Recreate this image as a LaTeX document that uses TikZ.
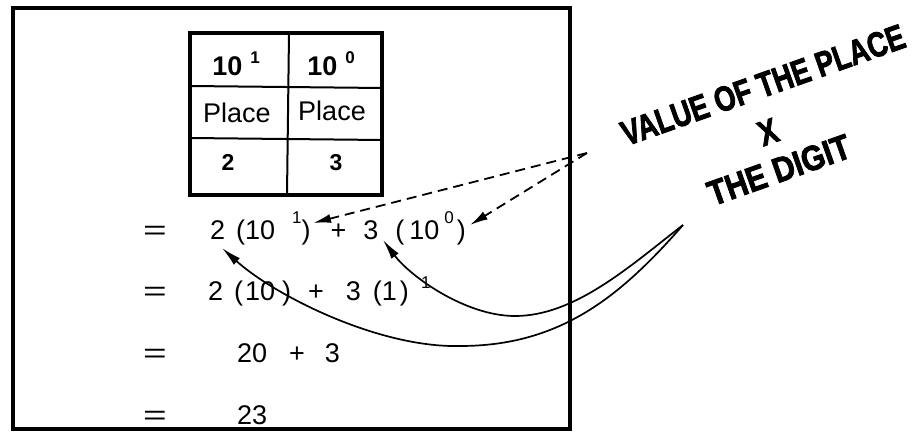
\documentclass[tikz,border=0pt]{standalone}
\usepackage{fontspec}
\setmainfont{Liberation Sans}
\newfontfamily\heavyfont[BoldFeatures={FakeBold=2.5}]{Liberation Sans}
\usetikzlibrary{arrows.meta}
\newcommand\rsup[2]{\raisebox{#1}{\fontsize{17}{17}\selectfont #2}}
\begin{document}
\begin{tikzpicture}[x=1pt,y=-1pt,
  eqtext/.style={anchor=base west, inner sep=0pt, font=\fontsize{27}{27}\selectfont},
  celltext/.style={anchor=base, inner sep=0pt},
  lab/.style={rotate=19.5, inner sep=0pt, font=\fontsize{35}{35}\selectfont\heavyfont\bfseries},
  frame/.style={line width=3.5pt},
  grid/.style={line width=2pt},
  dasharrow/.style={line width=1.8pt, dash pattern=on 10pt off 6pt, -{Latex[length=18pt,width=9pt]}},
  curvearrow/.style={line width=1.7pt, -{Latex[length=20pt,width=9pt]}},
]
\useasboundingbox (0,0) rectangle (912,433);
\fill[white] (0,0) rectangle (912,433);
% outer frame
\draw[frame] (13,8) rectangle (570,429);
% table
\draw[frame] (190,33) rectangle (382,195);
\draw[grid] (190,86) -- (382,88);
\draw[grid] (190,138) -- (382,140);
\draw[grid] (289,33) -- (287,195);
\node[celltext, font=\fontsize{27}{27}\selectfont\bfseries] (p1) at (236,76) {10\hspace{8pt}\rsup{12pt}{\bfseries 1}};
\node[celltext, font=\fontsize{27}{27}\selectfont\bfseries] (p0) at (331,76) {10\hspace{8pt}\rsup{12pt}{\bfseries 0}};
\node[celltext, font=\fontsize{27}{27}\selectfont] (pl1) at (237,122) {Place};
\node[celltext, font=\fontsize{27}{27}\selectfont] (pl0) at (332,121) {Place};
\node[celltext, font=\fontsize{23}{23}\selectfont\bfseries] (d2) at (228,170) {2};
\node[celltext, font=\fontsize{23}{23}\selectfont\bfseries] (d3) at (336,170) {3};
% equals signs
\foreach \i/\y in {1/239,2/300,3/362,4/424}
  \node[eqtext] (eq\i) at (143,\y) {\scalebox{1.5}[1]{=}};
% rows
\node[eqtext] (r1) at (210,239) {2\hspace{11pt}(10\hspace{17pt}\rsup{16pt}{1})\hspace{20pt}+\hspace{17pt}3\hspace{17pt}(\hspace{5pt}10\hspace{5pt}\rsup{16pt}{0}\hspace{3pt})};
\node[eqtext] (r2) at (208,300) {2\hspace{11pt}(\hspace{2pt}10\hspace{7pt})\hspace{17pt}+\hspace{22pt}3\hspace{12pt}(1\hspace{3pt})\hspace{12pt}\rsup{12pt}{1}};
\node[eqtext] (r3) at (237,362) {20\hspace{22pt}+\hspace{20pt}3};
\node[eqtext] (r4) at (237,424) {23};
% right-hand label
\node[lab] (v1) at (763,85) {\scalebox{0.78}[1]{VALUE OF THE PLACE}};
\node[lab] (vx) at (768,132) {\scalebox{0.8}[1]{X}};
\node[lab] (v3) at (779,170) {\scalebox{0.86}[1]{THE DIGIT}};
% connector points
\coordinate (src) at (587,153);
\coordinate (tA) at (313,223);
\coordinate (tB) at (470,225);
\coordinate (horn) at (683,225);
\coordinate (lowb) at (460,346);
\coordinate (upb) at (515,316);
\coordinate (tC) at (222,248);
\coordinate (tD) at (383,240);
% dashed arrows
\draw[dasharrow] (src) -- (tA);
\draw[dasharrow] (src) -- (tB);
% curved arrows
\draw[curvearrow] (horn) .. controls (620,297) and (560,346) .. (lowb)
  .. controls (378,348) and (274,295) .. (tC);
\draw[curvearrow] (horn) .. controls (630,266) and (575,316) .. (upb)
  .. controls (465,316) and (410,276) .. (tD);
\end{tikzpicture}
\end{document}
